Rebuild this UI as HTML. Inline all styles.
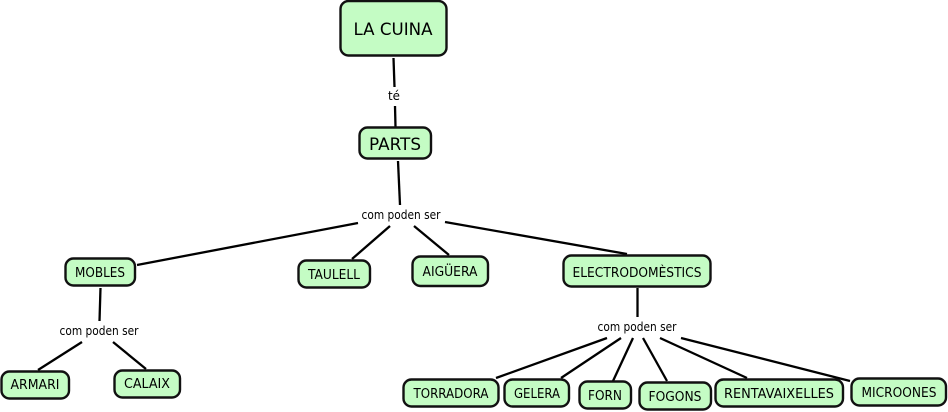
<!DOCTYPE html>
<html>
<head>
<meta charset="utf-8">
<style>
html,body{margin:0;padding:0;background:#fff;width:948px;height:412px;overflow:hidden}
svg{display:block}
.n{fill:#c4fcc4;stroke:#111;stroke-width:2.4}
.l{stroke:#000;stroke-width:2.3;fill:none;stroke-linecap:butt}
text{font-family:"DejaVu Sans","Liberation Sans",sans-serif;fill:#000;text-anchor:middle}
.s{font-size:12.5px}
.b{font-size:13.5px}
.t{font-size:17px}
</style>
</head>
<body>
<svg width="948" height="412" viewBox="0 0 948 412" xmlns="http://www.w3.org/2000/svg">
<g class="l">
<line x1="393.500" y1="58" x2="394.500" y2="87"/>
<line x1="395" y1="106" x2="395.500" y2="127"/>
<line x1="398" y1="161" x2="400" y2="205"/>
<line x1="358" y1="223" x2="137" y2="265"/>
<line x1="390" y1="226" x2="352" y2="259"/>
<line x1="414" y1="226" x2="449" y2="255"/>
<line x1="445" y1="222" x2="627" y2="254"/>
<line x1="100.500" y1="288" x2="99.500" y2="321"/>
<line x1="82" y1="342" x2="38" y2="370"/>
<line x1="113" y1="342" x2="146" y2="369"/>
<line x1="637.500" y1="288" x2="637.500" y2="317"/>
<line x1="607" y1="338" x2="496" y2="378"/>
<line x1="621" y1="338" x2="561" y2="378"/>
<line x1="633" y1="338" x2="613" y2="381"/>
<line x1="643" y1="338" x2="667" y2="381"/>
<line x1="660" y1="338" x2="747" y2="378"/>
<line x1="681" y1="338" x2="850" y2="381"/>
</g>
<rect class="n" x="340.500" y="1" width="106" height="54.500" rx="8"/>
<rect class="n" x="359.500" y="127.500" width="71.500" height="31" rx="8"/>
<rect class="n" x="65.500" y="258.500" width="69.500" height="27" rx="8"/>
<rect class="n" x="1.500" y="371.500" width="67.500" height="27" rx="8"/>
<rect class="n" x="114.500" y="370.500" width="65.500" height="27" rx="8"/>
<rect class="n" x="298.500" y="260.500" width="71.500" height="27" rx="8"/>
<rect class="n" x="412.500" y="256.500" width="75.500" height="29.500" rx="8"/>
<rect class="n" x="563.500" y="255.500" width="147" height="31" rx="8"/>
<rect class="n" x="403.500" y="379.500" width="95" height="27" rx="8"/>
<rect class="n" x="504.500" y="379.500" width="64.500" height="27" rx="8"/>
<rect class="n" x="579.500" y="381.500" width="51.500" height="27" rx="8"/>
<rect class="n" x="639.500" y="382.500" width="71.500" height="27" rx="8"/>
<rect class="n" x="715.500" y="379.500" width="127.500" height="27" rx="8"/>
<rect class="n" x="851.500" y="378.500" width="94.500" height="27" rx="8"/>

<text x="393" y="35" class="t" textLength="79" lengthAdjust="spacingAndGlyphs">LA CUINA</text>
<text x="395" y="150" class="t" textLength="52" lengthAdjust="spacingAndGlyphs">PARTS</text>
<text x="394" y="100" class="s" textLength="12" lengthAdjust="spacingAndGlyphs">té</text>
<text x="401" y="219" class="s" textLength="79" lengthAdjust="spacingAndGlyphs">com poden ser</text>
<text x="99" y="335" class="s" textLength="79" lengthAdjust="spacingAndGlyphs">com poden ser</text>
<text x="637" y="331" class="s" textLength="79" lengthAdjust="spacingAndGlyphs">com poden ser</text>
<text x="100" y="277" class="b" textLength="50" lengthAdjust="spacingAndGlyphs">MOBLES</text>
<text x="35" y="389" class="b" textLength="49" lengthAdjust="spacingAndGlyphs">ARMARI</text>
<text x="147" y="388" class="b" textLength="46" lengthAdjust="spacingAndGlyphs">CALAIX</text>
<text x="334" y="279" class="b" textLength="52" lengthAdjust="spacingAndGlyphs">TAULELL</text>
<text x="450" y="276" class="b" textLength="55" lengthAdjust="spacingAndGlyphs">AIGÜERA</text>
<text x="637" y="277" class="b" textLength="129" lengthAdjust="spacingAndGlyphs">ELECTRODOMÈSTICS</text>
<text x="451" y="398" class="b" textLength="75" lengthAdjust="spacingAndGlyphs">TORRADORA</text>
<text x="537" y="398" class="b" textLength="46" lengthAdjust="spacingAndGlyphs">GELERA</text>
<text x="605" y="400" class="b" textLength="34" lengthAdjust="spacingAndGlyphs">FORN</text>
<text x="675" y="401" class="b" textLength="53" lengthAdjust="spacingAndGlyphs">FOGONS</text>
<text x="779" y="398" class="b" textLength="110" lengthAdjust="spacingAndGlyphs">RENTAVAIXELLES</text>
<text x="899" y="397" class="b" textLength="75" lengthAdjust="spacingAndGlyphs">MICROONES</text>
</svg>
</body>
</html>
